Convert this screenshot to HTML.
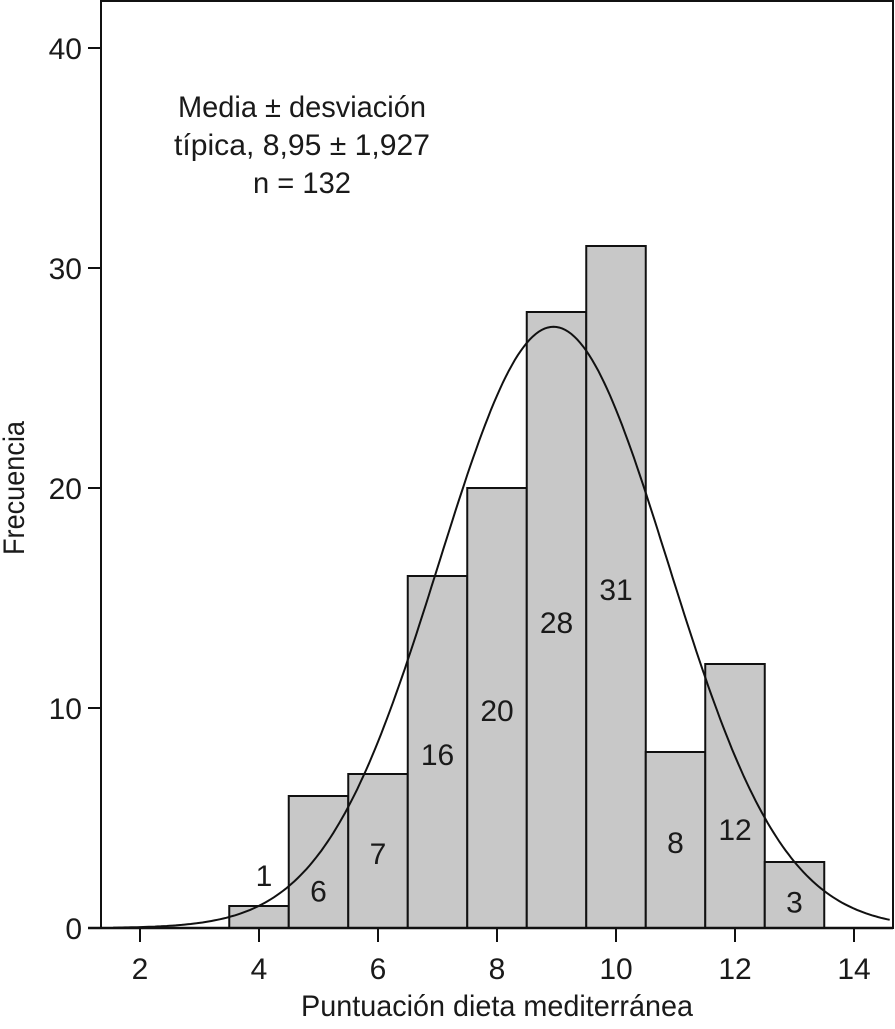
<!DOCTYPE html>
<html><head><meta charset="utf-8"><style>
html,body{margin:0;padding:0;background:#fff}
svg text{font-family:"Liberation Sans Narrow","Liberation Sans",sans-serif;fill:#1a1a1a}
</style></head><body>
<svg id="chart" width="895" height="1024" viewBox="0 0 895 1024" xmlns="http://www.w3.org/2000/svg">
<rect x="101" y="1" width="792" height="927" fill="#fff" stroke="#111" stroke-width="2"/>
<g id="bars"></g><g id="curve"></g><g id="axes"></g><g id="labels"></g>
<text x="302" y="117" font-size="30" text-anchor="middle" textLength="248" lengthAdjust="spacingAndGlyphs">Media ± desviación</text>
<text x="302" y="155" font-size="30" text-anchor="middle" textLength="256" lengthAdjust="spacingAndGlyphs">típica, 8,95 ± 1,927</text>
<text x="302" y="193" font-size="30" text-anchor="middle" textLength="98" lengthAdjust="spacingAndGlyphs">n = 132</text>
<text x="497" y="1016" font-size="30" text-anchor="middle" textLength="392" lengthAdjust="spacingAndGlyphs">Puntuación dieta mediterránea</text>
<text transform="translate(24,488) rotate(-90)" font-size="30" text-anchor="middle" textLength="134" lengthAdjust="spacingAndGlyphs">Frecuencia</text>
</svg>
<script>
const binCenters=[4,5,6,7,8,9,10,11,12,13];
const freqs=[1,6,7,16,20,28,31,8,12,3];
const labelY=[2.4,1.7,3.4,7.9,9.9,13.9,15.4,3.9,4.5,1.2];
const xTicks=[2,4,6,8,10,12,14];
const yTicks=[0,10,20,30,40];
const mean=8.95, sd=1.927, n=132, binWidth=1;
const NS='http://www.w3.org/2000/svg';
const sx=v=>140+(v-2)*59.5;
const sy=v=>928-v*22;
function mk(tag,attrs,parent,txt){const e=document.createElementNS(NS,tag);for(const k in attrs)e.setAttribute(k,attrs[k]);if(txt!==undefined)e.textContent=txt;parent.appendChild(e);return e;}
const gB=document.getElementById('bars'),gC=document.getElementById('curve'),gA=document.getElementById('axes'),gL=document.getElementById('labels');
binCenters.forEach((c,i)=>{
  const x0=sx(c-binWidth/2),x1=sx(c+binWidth/2);
  const r=mk('rect',{x:x0,y:sy(freqs[i]),width:x1-x0,height:sy(0)-sy(freqs[i]),fill:'#c8c8c8',stroke:'#111','stroke-width':2},gB);
  
  
  const t=mk('text',{x:sx(c)+(c===4?5:0),y:sy(labelY[i])+11,'font-size':30,'text-anchor':'middle'},gL,String(freqs[i]));
  
  
});
let d='';
for(let v=1.55;v<=14.62;v+=0.05){
  const y=n*binWidth/(sd*Math.sqrt(2*Math.PI))*Math.exp(-((v-mean)**2)/(2*sd*sd));
  d+=(d?'L':'M')+sx(v).toFixed(1)+','+sy(y).toFixed(1);
}
const p=mk('path',{d:d,fill:'none',stroke:'#111','stroke-width':2},gC);


const xa=mk('line',{x1:88,y1:928,x2:893,y2:928,stroke:'#111','stroke-width':2.5},gA);


xTicks.forEach(v=>{
  mk('line',{x1:sx(v),y1:928,x2:sx(v),y2:942,stroke:'#111','stroke-width':2},gA);
  const t=mk('text',{x:sx(v),y:979,'font-size':30,'text-anchor':'middle'},gA,String(v));
  
  
});
yTicks.forEach(v=>{
  mk('line',{x1:88,y1:sy(v),x2:101,y2:sy(v),stroke:'#111','stroke-width':2},gA);
  const t=mk('text',{x:82,y:sy(v)+11,'font-size':30,'text-anchor':'end'},gA,String(v));
  
  
});
</script>
</body></html>
